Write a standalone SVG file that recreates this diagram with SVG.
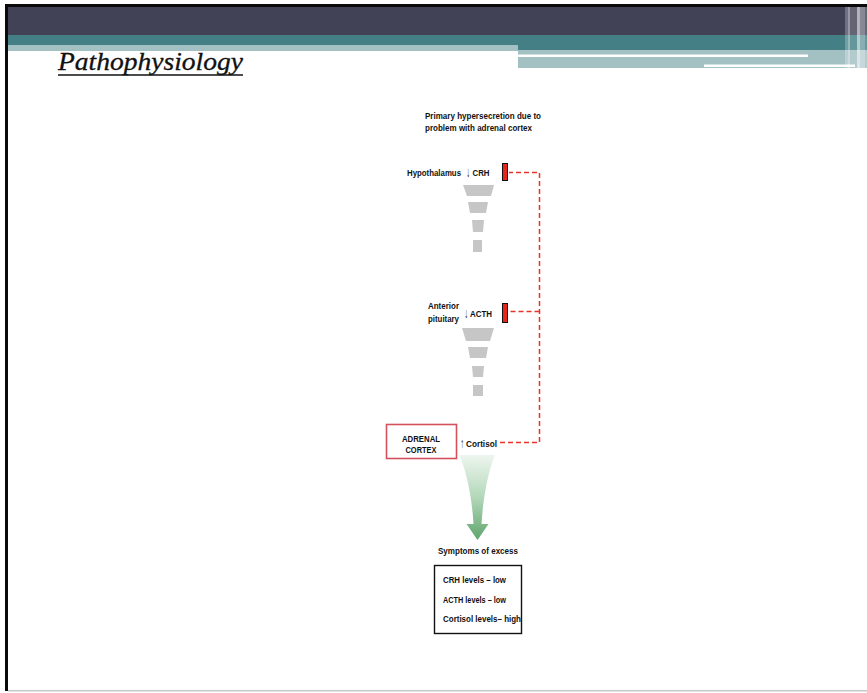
<svg xmlns="http://www.w3.org/2000/svg" width="867" height="693" viewBox="0 0 867 693">
  <defs>
    <style>
      .lbl { font-family: "Liberation Sans", Arial, sans-serif; font-weight: bold; font-size: 9.5px; fill: #111; }
      .arw { font-family: "Liberation Sans", "DejaVu Sans", sans-serif; font-weight: bold; font-size: 14px; }
      .funnel { fill: #c6c6c6; }
      .bar { fill: #e8251c; stroke: #111; stroke-width: 1; }
      .feedback { fill: none; stroke: #e8332b; stroke-width: 1.5; stroke-dasharray: 5 3; }
      .stripe { fill: #ffffff; }
    </style>
    <linearGradient id="greenFlow" x1="0" y1="0" x2="0" y2="1">
      <stop offset="0" stop-color="#eef6ef"/>
      <stop offset="0.5" stop-color="#b3d7b9"/>
      <stop offset="1" stop-color="#5ea56c"/>
    </linearGradient>
  </defs>

  <!-- page background and frame -->
  <rect x="0" y="0" width="867" height="693" fill="#ffffff"/>
  <rect x="5" y="4" width="862" height="3" fill="#0a0a0a"/>
  <rect x="5" y="4" width="3" height="687" fill="#0a0a0a"/>
  <rect x="8" y="690" width="859" height="1.5" fill="#c8c8c8"/>

  <!-- slide header bands -->
  <g id="header">
    <rect x="8" y="7" width="859" height="28" fill="#414256"/>
    <rect x="8" y="35" width="859" height="10" fill="#437f85"/>
    <rect x="518" y="45" width="349" height="5" fill="#437f85"/>
    <rect x="8" y="45" width="510" height="6" fill="#a3c0c3"/>
    <rect x="518" y="50" width="349" height="18" fill="#a3c0c3"/>
    <rect x="518" y="54.5" width="290" height="2.5" fill="#ffffff"/>
    <rect x="704" y="64.5" width="151" height="2.5" fill="#ffffff"/>
    <rect class="stripe" x="845" y="7" width="3" height="61" opacity="0.25"/>
    <rect class="stripe" x="848" y="7" width="2" height="61" opacity="0.45"/>
    <rect class="stripe" x="850" y="7" width="7" height="61" opacity="0.18"/>
    <rect class="stripe" x="857" y="7" width="3" height="61" opacity="0.6"/>
    <rect class="stripe" x="860" y="7" width="5" height="61" opacity="0.38"/>
    <rect class="stripe" x="865" y="7" width="2" height="61" opacity="0.2"/>
  </g>

  <!-- slide title -->
  <g id="title">
    <text x="58" y="70" font-family="'Liberation Serif', 'Times New Roman', serif" font-style="italic" font-size="25" fill="#111" stroke="#111" stroke-width="0.3" textLength="185" lengthAdjust="spacingAndGlyphs">Pathophysiology</text>
    <line x1="58" y1="75" x2="243" y2="75" stroke="#111" stroke-width="1.6"/>
  </g>

  <!-- caption -->
  <g id="caption">
    <text class="lbl" x="425" y="118.5" textLength="116" lengthAdjust="spacingAndGlyphs">Primary hypersecretion due to</text>
    <text class="lbl" x="425" y="130.5" textLength="107" lengthAdjust="spacingAndGlyphs">problem with adrenal cortex</text>
  </g>

  <!-- hypothalamus: CRH -->
  <g id="hypothalamus">
    <text class="lbl" x="407" y="175.5" font-size="8.5" textLength="54" lengthAdjust="spacingAndGlyphs">Hypothalamus</text>
    <text class="lbl" x="466.5" y="175.5"><tspan class="arw" y="177" textLength="3.5" lengthAdjust="spacingAndGlyphs">↓</tspan><tspan x="472.5" y="175.5" textLength="17" lengthAdjust="spacingAndGlyphs">CRH</tspan></text>
    <rect class="bar" x="502.5" y="163.5" width="5" height="17"/>
    <polygon class="funnel" points="463,185 494,185 491,196 467,196"/>
    <polygon class="funnel" points="468,202 488,202 486,213 470,213"/>
    <polygon class="funnel" points="472,220 484,220 483,232 473,232"/>
    <polygon class="funnel" points="473,240 482,240 482,252 473,252"/>
  </g>

  <!-- anterior pituitary: ACTH -->
  <g id="pituitary">
    <text class="lbl" x="428" y="308.5" textLength="31" lengthAdjust="spacingAndGlyphs">Anterior</text>
    <text class="lbl" x="428" y="321.5" textLength="31" lengthAdjust="spacingAndGlyphs">pituitary</text>
    <text class="lbl" x="464.5" y="316.5"><tspan class="arw" y="318" textLength="3.5" lengthAdjust="spacingAndGlyphs">↓</tspan><tspan x="470" y="316.5" textLength="22" lengthAdjust="spacingAndGlyphs">ACTH</tspan></text>
    <rect class="bar" x="502.5" y="303.5" width="5" height="19"/>
    <polygon class="funnel" points="462,328 494,328 490,341 466,341"/>
    <polygon class="funnel" points="468,347 488,347 486,358 470,358"/>
    <polygon class="funnel" points="472,366 484,366 483,377 473,377"/>
    <polygon class="funnel" points="473,385 483,385 483,396 473,396"/>
  </g>

  <!-- adrenal cortex: cortisol -->
  <g id="adrenal">
    <rect x="386.5" y="424.5" width="70" height="34" fill="#ffffff" stroke="#d4505c" stroke-width="1.6"/>
    <text class="lbl" x="421" y="441.5" text-anchor="middle" textLength="38" lengthAdjust="spacingAndGlyphs">ADRENAL</text>
    <text class="lbl" x="421" y="452.5" text-anchor="middle" textLength="31" lengthAdjust="spacingAndGlyphs">CORTEX</text>
    <text class="lbl" x="460.5" y="446.5"><tspan class="arw" y="447.5" textLength="3.5" lengthAdjust="spacingAndGlyphs">↑</tspan><tspan x="466" y="446.5" textLength="31" lengthAdjust="spacingAndGlyphs">Cortisol</tspan></text>
  </g>

  <!-- symptoms -->
  <g id="symptoms">
    <text class="lbl" x="438" y="553.5" textLength="80" lengthAdjust="spacingAndGlyphs">Symptoms of excess</text>
    <rect x="434.5" y="565.5" width="87" height="68" fill="#ffffff" stroke="#111" stroke-width="1.4"/>
    <text class="lbl" x="443" y="583" textLength="63" lengthAdjust="spacingAndGlyphs">CRH levels – low</text>
    <text class="lbl" x="443" y="602.5" textLength="63" lengthAdjust="spacingAndGlyphs">ACTH levels – low</text>
    <text class="lbl" x="443" y="621.5" textLength="78" lengthAdjust="spacingAndGlyphs">Cortisol levels– high</text>
  </g>

  <!-- feedback and output connectors -->
  <g id="connectors">
    <path class="feedback" d="M500,442.5 H539.5 V172.5 H509"/>
    <path class="feedback" d="M539.5,311.5 H509"/>
    <path d="M459,455 L495,455 C488,472 483,498 481.5,524 L488.5,524 L477.5,540 L466.5,524 L473.5,524 C472,498 467,472 459,455 Z" fill="url(#greenFlow)"/>
  </g>
</svg>
